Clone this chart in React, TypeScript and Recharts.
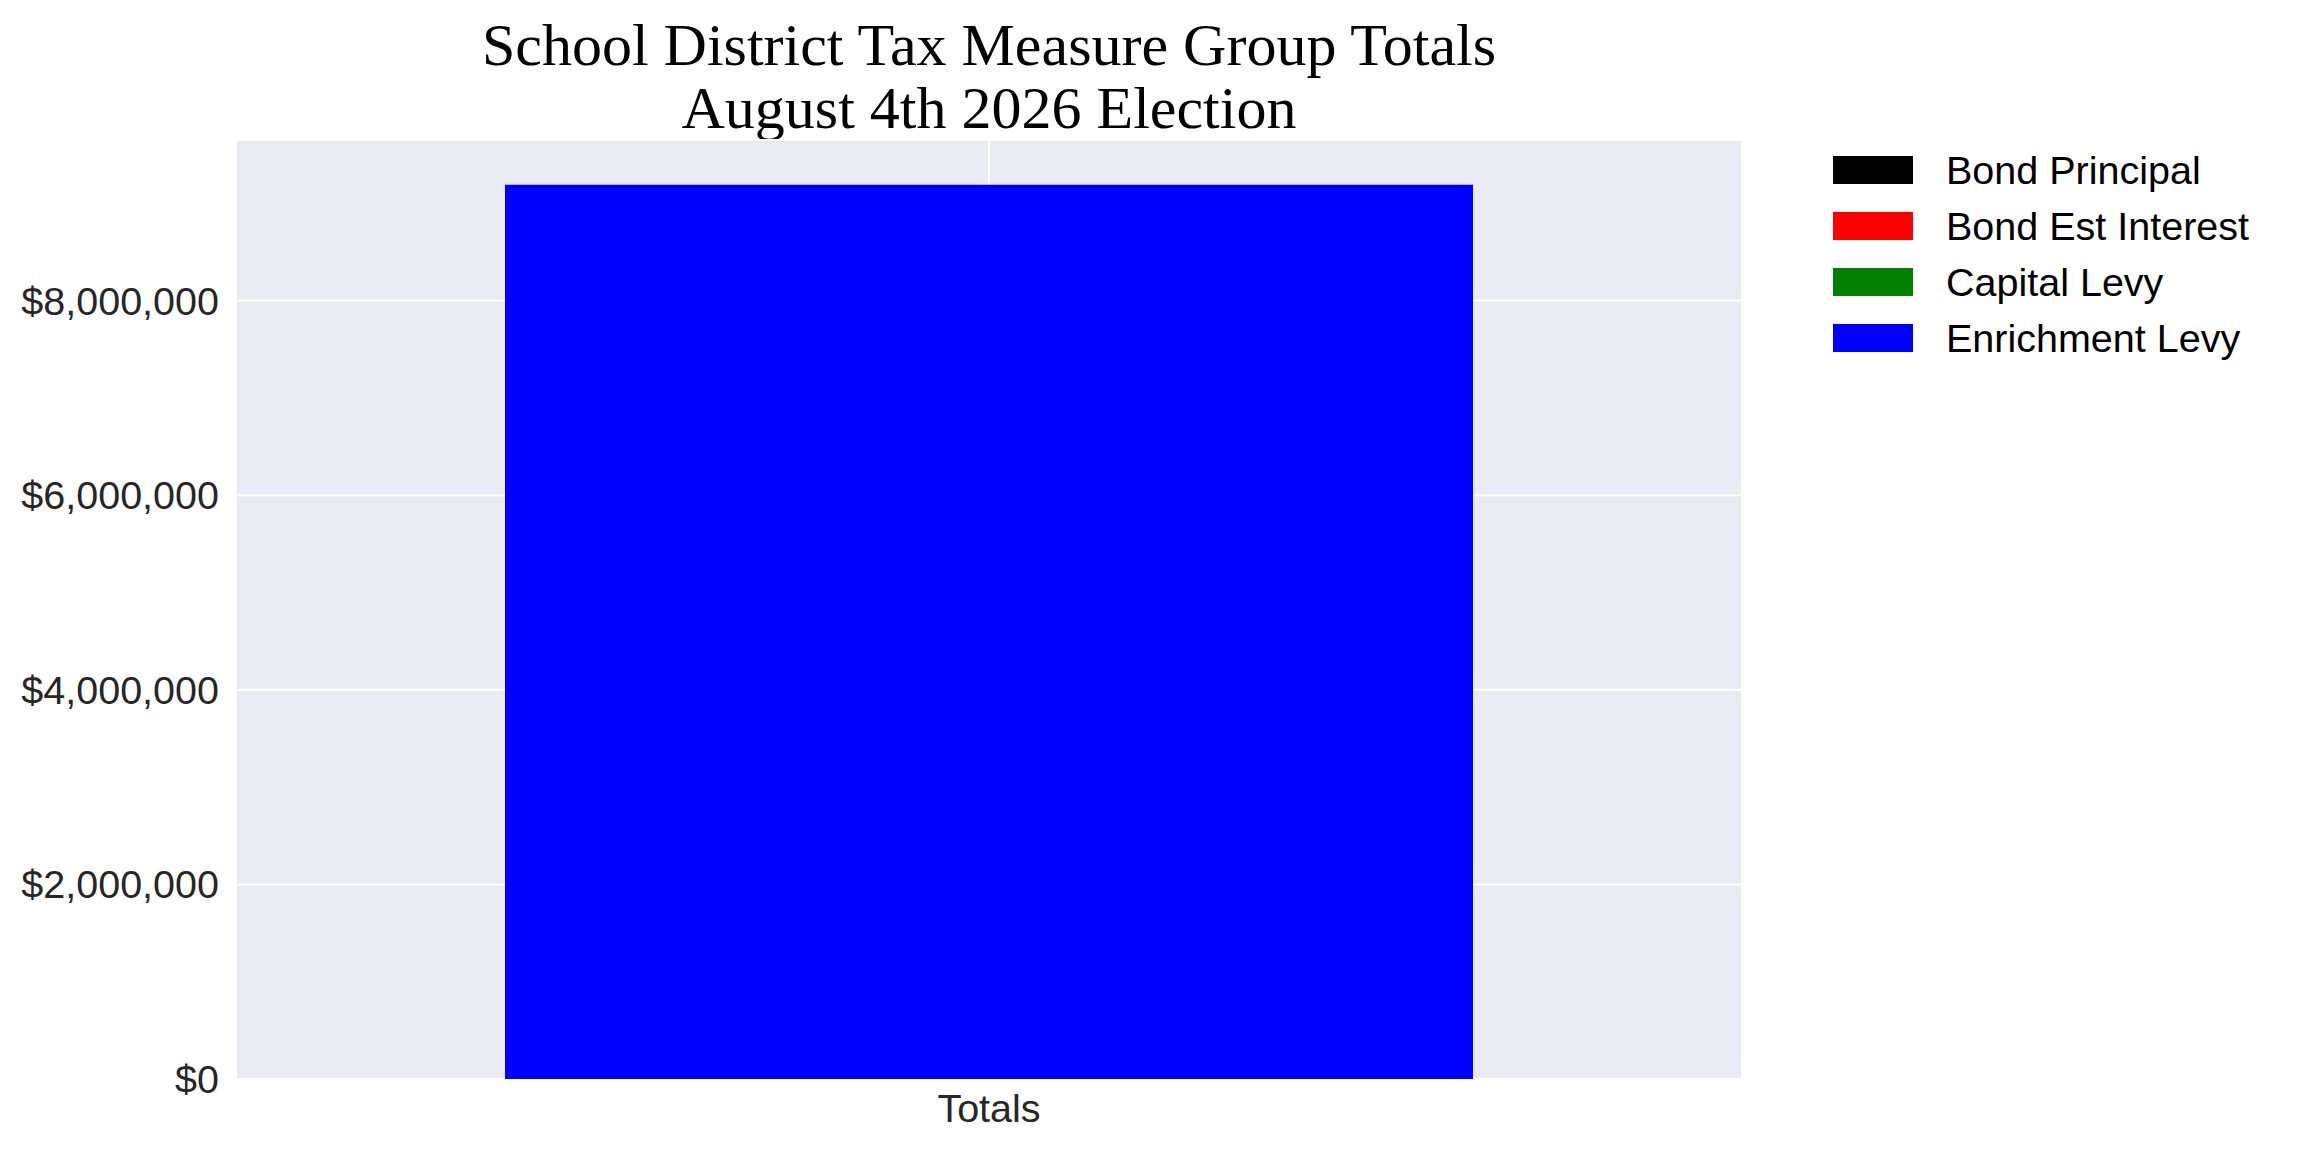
import { Bar, BarChart, CartesianGrid, XAxis, YAxis } from 'recharts'

const categories = ['Totals']
const bondPrincipal = [0]
const bondEstInterest = [0]
const capitalLevy = [0]
const enrichmentLevy = [9190000]

const yTicks = [0, 2000000, 4000000, 6000000, 8000000]
const titleLines = ['School District Tax Measure Group Totals', 'August 4th 2026 Election']

const series = [
  { key: 'bondPrincipal', name: 'Bond Principal', color: '#000000', values: bondPrincipal },
  { key: 'bondEstInterest', name: 'Bond Est Interest', color: '#ff0000', values: bondEstInterest },
  { key: 'capitalLevy', name: 'Capital Levy', color: '#008000', values: capitalLevy },
  { key: 'enrichmentLevy', name: 'Enrichment Levy', color: '#0000ff', values: enrichmentLevy },
]

const data = categories.map((name, i) => {
  const row: Record<string, string | number> = { name }
  series.forEach((s) => {
    row[s.key] = s.values[i]
  })
  return row
})

const stackMax = Math.max(
  ...categories.map((_, i) => series.reduce((sum, s) => sum + s.values[i], 0)),
)

const sansFont = '"Liberation Sans", Arial, sans-serif'
const money = (v: number) => `$${v.toLocaleString('en-US')}`

const App = () => {
  return (
    <div style={{ position: 'relative', width: 2304, height: 1152, background: '#ffffff' }}>
      <style>{'body { margin: 0; }'}</style>
      {titleLines.map((line, i) => (
        <div
          key={line}
          style={{
            position: 'absolute',
            left: 0,
            top: 15 + i * 63,
            width: 1978,
            textAlign: 'center',
            fontFamily: '"Liberation Serif", "Times New Roman", serif',
            fontSize: 60,
            lineHeight: '60px',
            color: '#000000',
            whiteSpace: 'nowrap',
          }}
        >
          {line}
        </div>
      ))}

      <BarChart
        width={2304}
        height={1152}
        data={data}
        margin={{ top: 140, right: 562, bottom: 13, left: 6 }}
      >
        <CartesianGrid fill="#eaeaf2" stroke="#ffffff" strokeWidth={2} />
        <XAxis
          dataKey="name"
          axisLine={false}
          tickLine={false}
          tickSize={0}
          tickMargin={15}
          height={60}
          tick={{ fontSize: 39.5, fill: '#262626', fontFamily: sansFont }}
        />
        <YAxis
          width={230}
          domain={[0, stackMax * 1.05]}
          ticks={yTicks}
          tickFormatter={money}
          axisLine={false}
          tickLine={false}
          tickSize={0}
          tickMargin={17}
          tick={{ fontSize: 39.5, fill: '#262626', fontFamily: sansFont }}
        />
        {series.map((s) => (
          <Bar
            key={s.key}
            dataKey={s.key}
            name={s.name}
            stackId="total"
            fill={s.color}
            barSize={968}
            isAnimationActive={false}
          />
        ))}
      </BarChart>

      <div style={{ position: 'absolute', left: 1833, top: 142, fontFamily: sansFont }}>
        {series.map((s) => (
          <div key={s.key} style={{ display: 'flex', alignItems: 'center', height: 56 }}>
            <div style={{ width: 80, height: 28, background: s.color, marginRight: 33 }} />
            <span style={{ fontSize: 39.5, color: '#000000', whiteSpace: 'nowrap' }}>{s.name}</span>
          </div>
        ))}
      </div>
    </div>
  )
}

export default App
